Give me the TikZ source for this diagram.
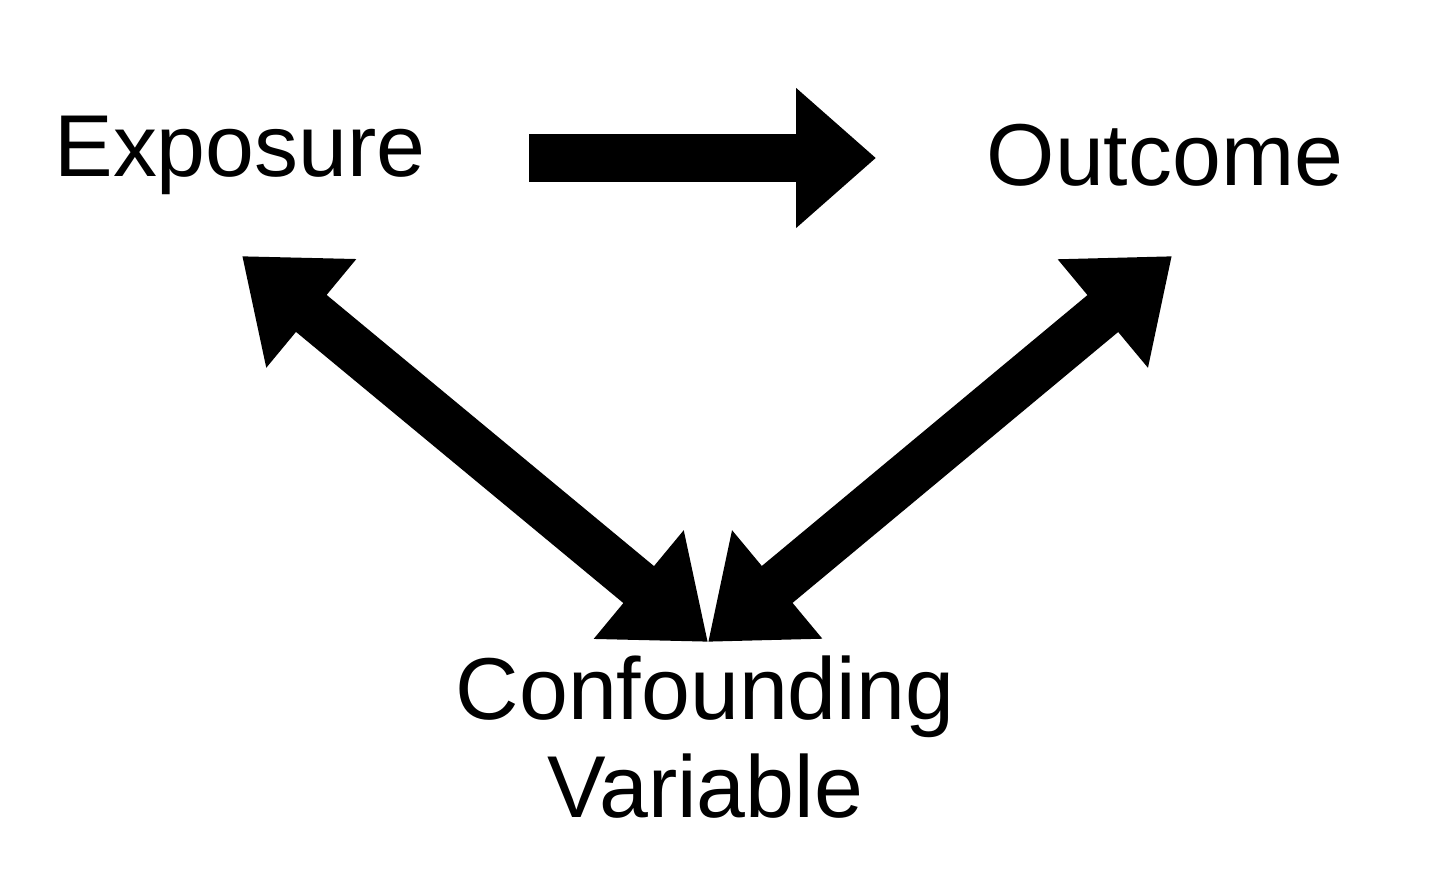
\documentclass[tikz,border=0pt]{standalone}
\usepackage{fontspec}
\setmainfont{Liberation Sans}
\usetikzlibrary{arrows.meta,positioning}

\begin{document}
\begin{tikzpicture}[font=\fontsize{25}{30}\selectfont,every node/.style={inner sep=0pt},bigarrow/.style={line width=4.8mm,-{Triangle[length=8mm,width=13.5mm]}},twoway/.style={line width=4.8mm,{Triangle[length=9mm,width=13.5mm]}-{Triangle[length=9mm,width=13.5mm]}}]
	\useasboundingbox (0,0) rectangle (14.4,8.92);

	\node (exposure) at (2.4,7.37) {Exposure};
	\node (outcome) at (11.65,7.37) {Outcome};
	\node[align=center] (confounder) at (7.05,1.55) {Confounding\\[-2pt]Variable};

	\coordinate (exptip) at (2.42,6.36);
	\coordinate (outtip) at (11.72,6.36);
	\coordinate (conftip) at (7.08,2.5);

	\draw[bigarrow] ([xshift=10.3mm,yshift=-0.3mm]exposure.east) -- ([xshift=-11mm,yshift=-0.3mm]outcome.west);
	\draw[twoway] (exptip) -- (conftip);
	\draw[twoway] (outtip) -- (conftip);
\end{tikzpicture}
\end{document}
